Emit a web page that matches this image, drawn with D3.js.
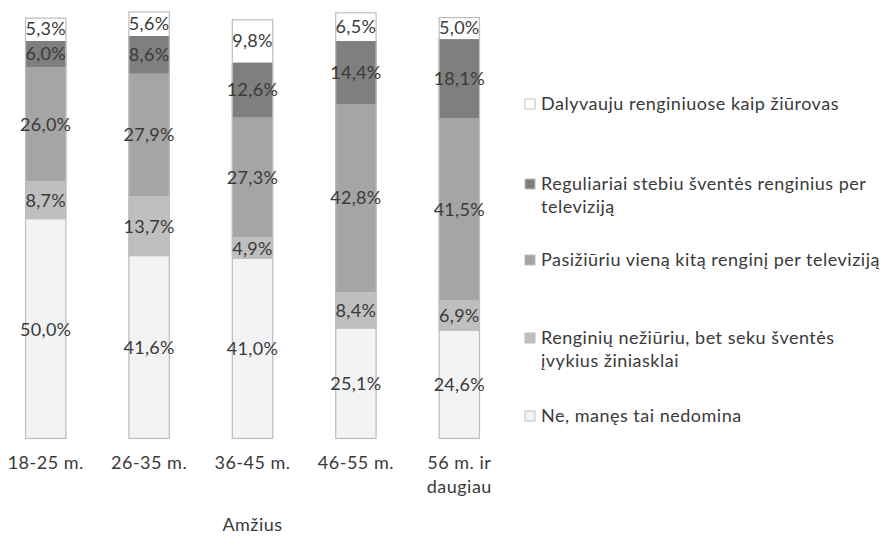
<!DOCTYPE html>
<html>
<head>
<meta charset="utf-8">
<script src="https://cdn.jsdelivr.net/npm/d3@7"></script>
<style>
  html, body { margin: 0; padding: 0; background: #fff; }
  text { font-family: Lato, "Open Sans", sans-serif; fill: #3a3a3a; }
</style>
</head>
<body>
<svg id="chart" width="883" height="538"></svg>
<script>
// ---- data ----
const categories = ["18-25 m.", "26-35 m.", "36-45 m.", "46-55 m.", "56 m. ir daugiau"];
const categoryLines = [["18-25 m."], ["26-35 m."], ["36-45 m."], ["46-55 m."], ["56 m. ir", "daugiau"]];
const seriesNames = [
  "Ne, manęs tai nedomina",
  "Renginių nežiūriu, bet seku šventės įvykius žiniasklai",
  "Pasižiūriu vieną kitą renginį per televiziją",
  "Reguliariai stebiu šventės renginius per televiziją",
  "Dalyvauju renginiuose kaip žiūrovas"
];
const neNedomina   = [50.0, 41.6, 41.0, 25.1, 24.6];
const nezUriuSeku  = [8.7, 13.7, 4.9, 8.4, 6.9];
const pasiziuriu   = [26.0, 27.9, 27.3, 42.8, 41.5];
const reguliariai  = [6.0, 8.6, 12.6, 14.4, 18.1];
const dalyvauju    = [5.3, 5.6, 9.8, 6.5, 5.0];
const seriesValues = [neNedomina, nezUriuSeku, pasiziuriu, reguliariai, dalyvauju];
const seriesColors = ["#f2f3f5", "#bfbfbf", "#a5a5a5", "#7f7f7f", "#ffffff"];
const legendLines = [
  ["Dalyvauju renginiuose kaip žiūrovas"],
  ["Reguliariai stebiu šventės renginius per", "televiziją"],
  ["Pasižiūriu vieną kitą renginį per televiziją"],
  ["Renginių nežiūriu, bet seku šventės", "įvykius žiniasklai"],
  ["Ne, manęs tai nedomina"]
];
const legendSeriesIdx = [4, 3, 2, 1, 0];
const axisTitle = "Amžius";

// ---- chart ----
const svg = d3.select("#chart");
const x = d3.scaleBand().domain(categories).range([-6, 511]).paddingInner(0.6).paddingOuter(0.3);
const y = d3.scaleLinear().domain([0, 100]).range([439, 0]);

const rows = categories.map((c, i) => {
  const r = { cat: c };
  seriesNames.forEach((s, k) => r[s] = seriesValues[k][i]);
  return r;
});
const stack = d3.stack().keys(seriesNames)(rows);

const fmt = v => v.toFixed(1).replace(".", ",") + "%";

const layers = svg.append("g").selectAll("g").data(stack).join("g")
  .attr("fill", (d, k) => seriesColors[k]);
layers.selectAll("rect").data(d => d).join("rect")
  .attr("x", d => x(d.data.cat))
  .attr("width", x.bandwidth())
  .attr("y", d => y(d[1]))
  .attr("height", d => y(d[0]) - y(d[1]));

// bar outlines
const totals = categories.map((c, i) => d3.sum(seriesValues, s => s[i]));
svg.append("g").selectAll("rect").data(categories).join("rect")
  .attr("x", c => x(c) + 0.5)
  .attr("width", x.bandwidth() - 1)
  .attr("y", (c, i) => y(totals[i]) + 0.5)
  .attr("height", (c, i) => y(0) - y(totals[i]) - 1)
  .attr("fill", "none")
  .attr("stroke", "#bdbdbd")
  .attr("stroke-width", 1.2);

// value labels
svg.append("g").selectAll("g").data(stack).join("g")
  .selectAll("text").data(d => d).join("text")
  .attr("x", d => x(d.data.cat) + x.bandwidth() / 2)
  .attr("y", d => (y(d[0]) + y(d[1])) / 2)
  .attr("text-anchor", "middle")
  .attr("dy", "0.35em")
  .style("font-size", "18px")
  .style("letter-spacing", "0.3px")
  .text(d => fmt(d[1] - d[0]));

// category labels
const catG = svg.append("g").selectAll("text").data(categories).join("text")
  .attr("x", c => x(c) + x.bandwidth() / 2)
  .attr("y", 463)
  .attr("text-anchor", "middle")
  .style("font-size", "18px")
  .style("letter-spacing", "0.5px");
catG.selectAll("tspan").data((c, i) => categoryLines[i]).join("tspan")
  .attr("x", function() { return this.parentNode.getAttribute("x"); })
  .attr("dy", (d, j) => j === 0 ? "0.35em" : "24px")
  .text(d => d);

// axis title
svg.append("text")
  .attr("x", x(categories[2]) + x.bandwidth() / 2)
  .attr("y", 525)
  .attr("text-anchor", "middle")
  .attr("dy", "0.35em")
  .style("font-size", "18px")
  .style("letter-spacing", "0.5px")
  .text(axisTitle);

// legend
const legendY = [104, 184, 260, 338, 416];
const lg = svg.append("g").selectAll("g").data(legendSeriesIdx).join("g")
  .attr("transform", (k, j) => `translate(525,${legendY[j]})`);
lg.append("rect")
  .attr("x", 0).attr("y", -5).attr("width", 10).attr("height", 10)
  .attr("fill", k => seriesColors[k])
  .attr("stroke", "#bdbdbd").attr("stroke-width", 1);
const lt = lg.append("text")
  .attr("x", 16).attr("y", 0)
  .style("font-size", "18px")
  .style("letter-spacing", "0.5px");
lt.selectAll("tspan").data((k, j) => legendLines[j]).join("tspan")
  .attr("x", 16)
  .attr("dy", (d, j) => j === 0 ? "0.35em" : "23px")
  .text(d => d);
</script>
</body>
</html>
